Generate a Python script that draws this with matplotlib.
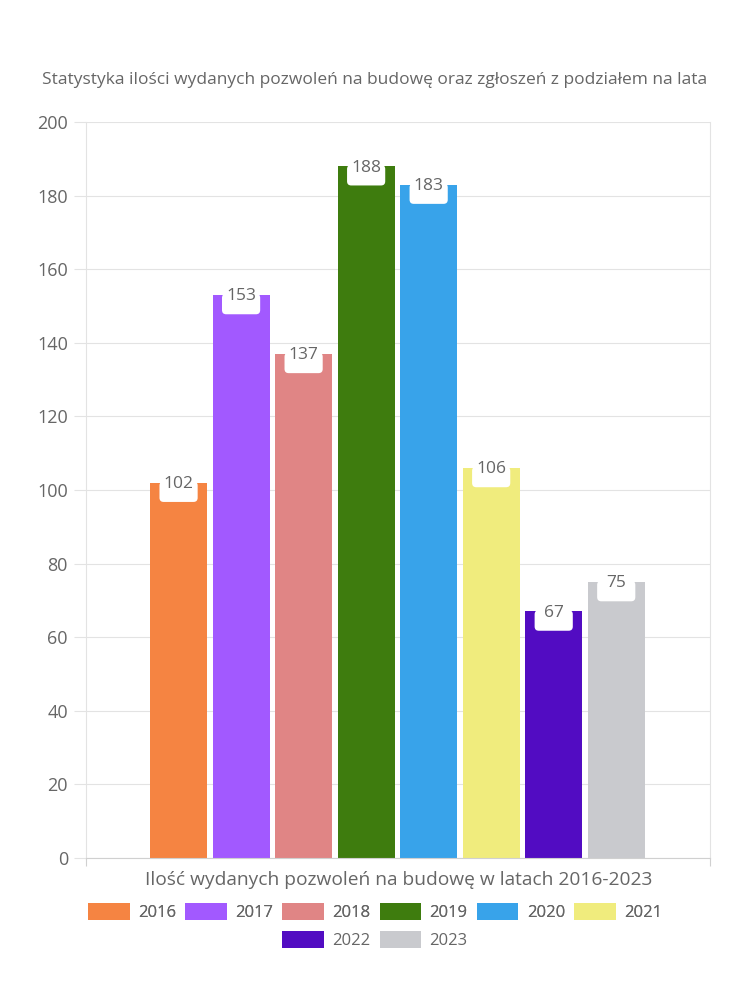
import matplotlib
matplotlib.use("Agg")
import matplotlib.pyplot as plt
from matplotlib.patches import Patch
import numpy as np

years = ["2016", "2017", "2018", "2019", "2020", "2021", "2022", "2023"]
values = [102, 153, 137, 188, 183, 106, 67, 75]
colors = ["#F58442", "#A259FF", "#E08585", "#3E7C0E", "#38A3EA", "#F0EC7D", "#520CC2", "#C9CACE"]
yticks = [0, 20, 40, 60, 80, 100, 120, 140, 160, 180, 200]
title = "Statystyka ilości wydanych pozwoleń na budowę oraz zgłoszeń z podziałem na lata"
xlabel = "Ilość wydanych pozwoleń na budowę w latach 2016-2023"

plt.rcParams['font.family'] = ['Open Sans', 'DejaVu Sans']
txt = "#666666"
grid = "#E3E3E3"

fig = plt.figure(figsize=(7.5, 10), dpi=100)
ax = fig.add_axes([0.1147, 0.142, 0.832, 0.736])

x = np.arange(len(years))
ax.bar(x, values, width=0.91, color=colors, zorder=2)
ax.set_xlim(-1.48, 8.5)
ax.set_ylim(0, 200)
ax.set_yticks(yticks)
ax.set_yticklabels([str(t) for t in yticks], fontsize=13, color=txt)
ax.yaxis.grid(True, color=grid, linewidth=0.8, zorder=0)
ax.set_xticks([-1.48, 8.5])
ax.set_xticklabels(["", ""])
ax.tick_params(axis='y', length=9, color=grid, pad=4)
ax.tick_params(axis='x', length=6, color="#D0D0D0")
for s in ['left', 'right']:
    ax.spines[s].set_color(grid)
ax.spines['top'].set_visible(False)
ax.spines['bottom'].set_color("#D0D0D0")

for xi, v in zip(x, values):
    # white rounded tag under the bar top
    ax.annotate("         ", xy=(xi, v), xytext=(0, -6.5), textcoords='offset points',
                ha='center', va='center', fontsize=10, color='white',
                bbox=dict(boxstyle='round,pad=0.2,rounding_size=0.3', fc='white', ec='none'), zorder=3)
    ax.annotate(str(v), xy=(xi, v), xytext=(0, -1), textcoords='offset points',
                ha='center', va='center', fontsize=12.5, color=txt, zorder=4)

fig.text(0.5, 0.92, title, ha='center', va='center', fontsize=12.5, color=txt)
fig.text(0.531, 0.12, xlabel, ha='center', va='center', fontsize=13.8, color=txt)

handles = [Patch(facecolor=c, edgecolor='none') for c in colors]
common = dict(frameon=False, fontsize=12, labelcolor=txt, handlelength=2.5, handleheight=1.15,
              columnspacing=0.55, handletextpad=0.5)
leg1 = fig.legend(handles[:6], years[:6], loc='center', bbox_to_anchor=(0.5, 0.088), ncol=6, **common)
leg2 = fig.legend(handles[6:], years[6:], loc='center', bbox_to_anchor=(0.5, 0.06), ncol=2, **common)
fig.add_artist(leg1)

fig.savefig("out.png", dpi=100, facecolor='white')
